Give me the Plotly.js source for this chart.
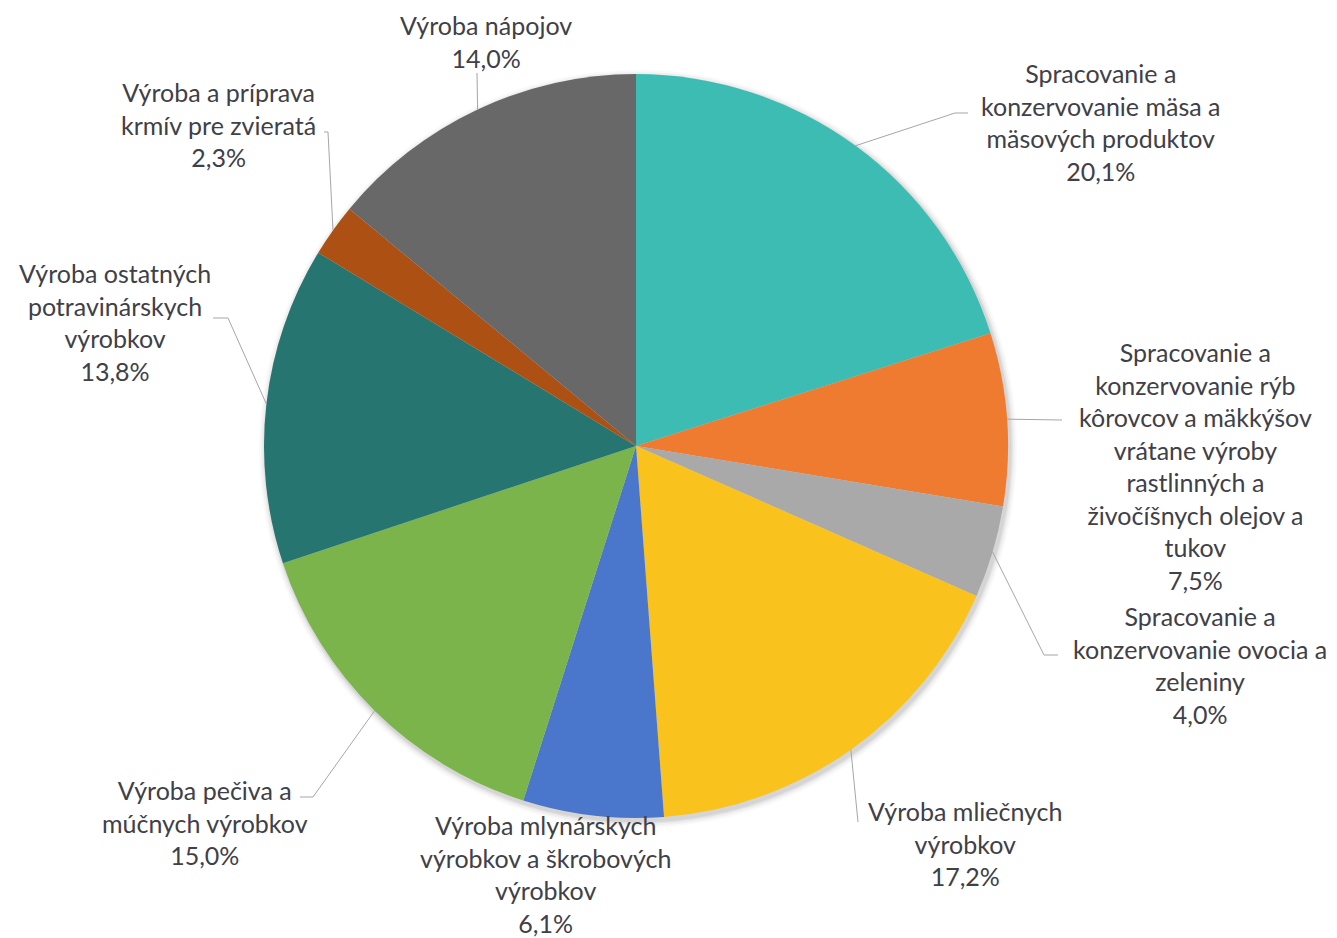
<!DOCTYPE html>
<html>
<head>
<meta charset="utf-8">
<script src="https://cdn.plot.ly/plotly-3.0.1.min.js"></script>
<style>html,body{margin:0;padding:0;background:#fff;}#chart{width:1337px;height:938px;}</style>
</head>
<body>
<div id="chart"></div>
<script>
// ---- data ----
const categories = [
  "Spracovanie a konzervovanie mäsa a mäsových produktov",
  "Spracovanie a konzervovanie rýb kôrovcov a mäkkýšov vrátane výroby rastlinných a živočíšnych olejov a tukov",
  "Spracovanie a konzervovanie ovocia a zeleniny",
  "Výroba mliečnych výrobkov",
  "Výroba mlynárskych výrobkov a škrobových výrobkov",
  "Výroba pečiva a múčnych výrobkov",
  "Výroba ostatných potravinárskych výrobkov",
  "Výroba a príprava krmív pre zvieratá",
  "Výroba nápojov"
];
const values = [20.1, 7.5, 4.0, 17.2, 6.1, 15.0, 13.8, 2.3, 14.0];
const labelLines = [
  ["Spracovanie a", "konzervovanie mäsa a", "mäsových produktov"],
  ["Spracovanie a", "konzervovanie rýb", "kôrovcov a mäkkýšov", "vrátane výroby", "rastlinných a", "živočíšnych olejov a", "tukov"],
  ["Spracovanie a", "konzervovanie ovocia a", "zeleniny"],
  ["Výroba mliečnych", "výrobkov"],
  ["Výroba mlynárskych", "výrobkov a škrobových", "výrobkov"],
  ["Výroba pečiva a", "múčnych výrobkov"],
  ["Výroba ostatných", "potravinárskych", "výrobkov"],
  ["Výroba a príprava", "krmív pre zvieratá"],
  ["Výroba nápojov"]
];
const colors = ["#3dbcb4", "#ee7b30", "#a9a9a9", "#f9c21c", "#4a76cc", "#7bb44b", "#277570", "#ad5013", "#686868"];

// ---- layout helpers (pixels) ----
const W = 1337, H = 938;
const CX = 636, CY = 446, R = 372;
const FS = 25;
// label block centers and leader-line bend points
const labelPos = [
  {x: 1101, y: 122, path: [[955, 113], [968, 113]]},
  {x: 1195, y: 466, path: [[1062, 420]]},
  {x: 1200, y: 665, path: [[1044, 655], [1058, 655]]},
  {x: 965,  y: 843, path: [[858, 822]]},
  {x: 545,  y: 874, path: []},
  {x: 205,  y: 822, path: [[313, 797], [300, 797]]},
  {x: 115,  y: 322, path: [[228, 318], [213, 318]]},
  {x: 218,  y: 124, path: [[328, 132], [324, 132]]},
  {x: 486,  y: 41,  path: [[477, 73]]}
];

const px = x => x / W, py = y => 1 - y / H;
const total = values.reduce((a, b) => a + b, 0);
const fmt = v => v.toFixed(1).replace('.', ',') + '%';

const annotations = [];
const shapes = [];
// soft shadow under the pie
[[7, 0.025], [5, 0.035], [3, 0.05], [1.5, 0.06]].forEach(([d, op]) => {
  shapes.push({type: 'circle', xref: 'paper', yref: 'paper', layer: 'below',
    x0: px(CX - R - d + 2), x1: px(CX + R + d + 2), y0: py(CY + R + d + 3), y1: py(CY - R - d + 3),
    fillcolor: 'rgba(0,0,0,' + op + ')', line: {width: 0}});
});
let cum = 0;
values.forEach((v, i) => {
  const mid = (cum + v / 2) / total * 2 * Math.PI;
  cum += v;
  const ex = CX + R * Math.sin(mid), ey = CY - R * Math.cos(mid);
  const lp = labelPos[i];
  let prev = [ex, ey];
  lp.path.forEach(p => {
    shapes.push({type: 'line', xref: 'paper', yref: 'paper', layer: 'above',
      x0: px(prev[0]), y0: py(prev[1]), x1: px(p[0]), y1: py(p[1]),
      line: {color: '#a6a6a6', width: 1}});
    prev = p;
  });
  annotations.push({
    xref: 'paper', yref: 'paper', x: px(lp.x), y: py(lp.y),
    xanchor: 'center', yanchor: 'middle', align: 'center', showarrow: false,
    text: labelLines[i].concat([fmt(v)]).join('<br>'),
    font: {family: 'Lato, sans-serif', size: FS, color: '#404048'}
  });
});

const trace = {
  type: 'pie',
  labels: categories,
  values: values,
  sort: false,
  direction: 'clockwise',
  rotation: 0,
  textinfo: 'none',
  hoverinfo: 'label+percent',
  marker: {colors: colors, line: {width: 0}},
  domain: {x: [px(CX - R), px(CX + R)], y: [py(CY + R), py(CY - R)]},
  showlegend: false
};

Plotly.newPlot('chart', [trace], {
  width: W, height: H,
  margin: {l: 0, r: 0, t: 0, b: 0},
  paper_bgcolor: '#ffffff',
  showlegend: false,
  annotations: annotations,
  shapes: shapes
}, {displayModeBar: false, staticPlot: true});
</script>
</body>
</html>
